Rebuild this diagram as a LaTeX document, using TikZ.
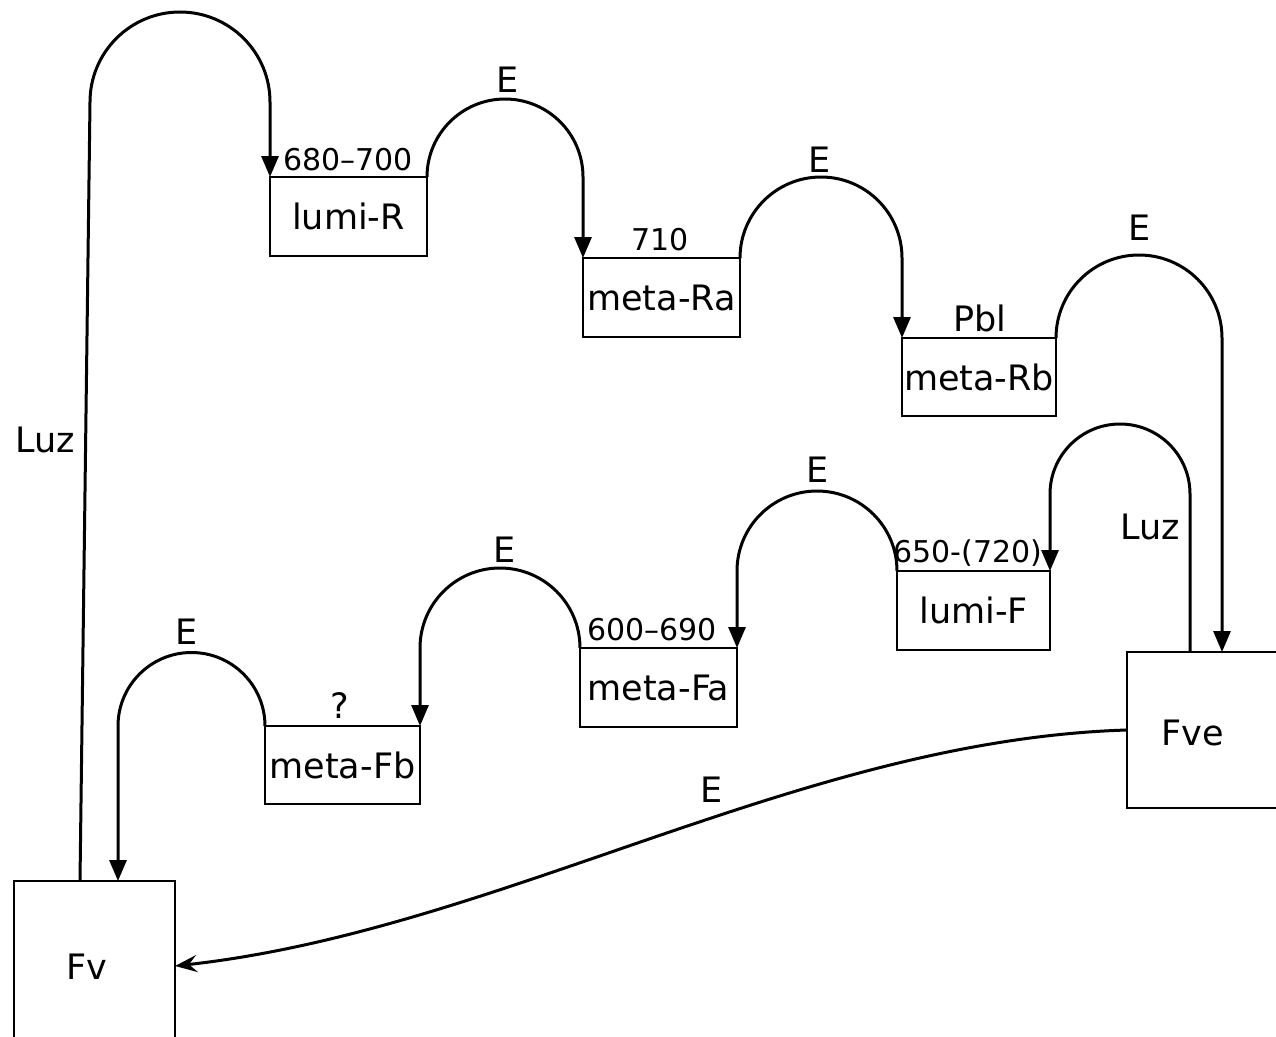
\documentclass[tikz,border=0pt]{standalone}
\usepackage{fontspec}
\setmainfont{DejaVu Sans}
\usetikzlibrary{arrows.meta,calc}
\begin{document}
\begin{tikzpicture}[x=1pt,y=-1pt,
  line width=3pt,
  stbox/.style={draw, rectangle, outer sep=0pt, inner sep=0pt, anchor=north west,
                line width=2.6pt,
                minimum width=156pt, minimum height=79pt, font=\fontsize{35}{40}\selectfont},
  lbl/.style={font=\fontsize{35}{40}\selectfont, inner sep=0pt},
  num/.style={font=\fontsize{30}{34}\selectfont, inner sep=0pt},
  arr/.style={-{Triangle[length=21pt,width=17pt]}},
  sarr/.style={-{Stealth[length=22pt,width=17pt,inset=8pt]}},
]
\useasboundingbox (0,0) rectangle (1276,1036);
\fill[white] (0,0) rectangle (1276,1036);

% boxes
\node[stbox, minimum width=157pt] (lumiR) at (270,177) {lumi-R};
\node[stbox, minimum width=157pt] (metaRa) at (583,258) {meta-Ra};
\node[stbox, minimum width=154pt, minimum height=78pt] (metaRb) at (902,338) {meta-Rb};
\node[stbox, minimum width=153pt] (lumiF) at (897,571) {lumi-F};
\node[stbox, minimum width=157pt] (metaFa) at (580,648) {meta-Fa};
\node[stbox, minimum width=155pt, minimum height=78pt] (metaFb) at (265,726) {meta-Fb};
\node[stbox, minimum width=175pt, minimum height=156pt] (Fve) at (1127,652) {};
\node[stbox, minimum width=161pt, minimum height=170pt] (Fv) at (14,881) {};
\node[lbl] (FveT) at (1193,733) {Fve};
\node[lbl] (FvT) at (87,967) {Fv};

% anchor points on the big boxes
\coordinate (luzA) at ($(Fv.north west)+(66,0)$);
\coordinate (fvIn) at ($(Fv.north west)+(104,0)$);
\coordinate (fveIn) at ($(Fve.north west)+(95,0)$);
\coordinate (fveOut) at ($(Fve.north west)+(63,0)$);

% connectors
\draw[arr] (luzA) -- (90,102) arc[start angle=180,end angle=0,radius=90pt] -- (lumiR.north west);
\draw[arr] (lumiR.north east) arc[start angle=180,end angle=0,radius=78pt] -- (metaRa.north west);
\draw[arr] (metaRa.north east) arc[start angle=180,end angle=0,radius=81pt] -- (metaRb.north west);
\draw[arr] (metaRb.north east) arc[start angle=180,end angle=0,radius=83pt] -- (fveIn);
\draw[arr] (fveOut) -- (1190,494) arc[start angle=0,end angle=180,radius=70pt] -- (lumiF.north east);
\draw[arr] (lumiF.north west) arc[start angle=0,end angle=180,radius=80pt] -- (metaFa.north east);
\draw[arr] (metaFa.north west) arc[start angle=0,end angle=180,radius=80pt] -- (metaFb.north east);
\draw[arr] (metaFb.north west) arc[start angle=0,end angle=180,radius=73.5pt] -- (fvIn);
\draw[sarr] (Fve.west) .. controls (800,740) and (500,930) .. (Fv.east);

% labels
\node[lbl] (luz1) at (45,440) {Luz};
\node[lbl] (luz2) at (1150,527) {Luz};
\node[lbl] (e1) at (508,80) {E};
\node[lbl] (e2) at (820,160) {E};
\node[lbl] (e3) at (1140,228) {E};
\node[lbl] (e4) at (818,470) {E};
\node[lbl] (e5) at (505,550) {E};
\node[lbl] (e6) at (187,632) {E};
\node[lbl] (e7) at (712,790) {E};
\node[num] (n1) at (348,160) {680--700};
\node[num] (n2) at (660,240) {710};
\node[lbl] (n3) at (980,318) {Pbl};
\node[num] (n4) at (968,553) {650-(720)};
\node[num] (n5) at (652,630) {600--690};
\node[lbl] (n6) at (340,706) {?};
\end{tikzpicture}
\end{document}
